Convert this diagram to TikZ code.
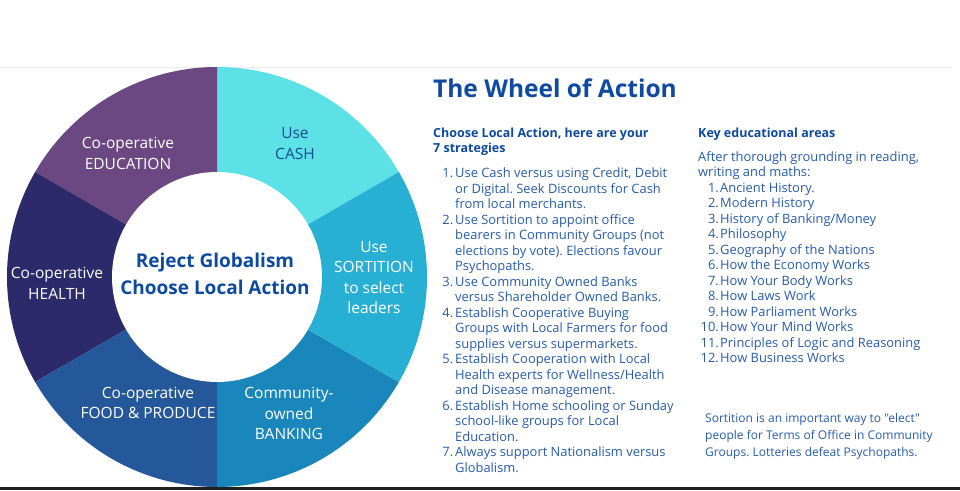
\documentclass[tikz,border=0pt]{standalone}
\usepackage{fontspec}
\setmainfont{Open Sans}[Ligatures=TeXOff]
\frenchspacing
\definecolor{cEdu}{HTML}{6B4882}
\definecolor{cCash}{HTML}{5CE1E6}
\definecolor{cSort}{HTML}{28B0D4}
\definecolor{cBank}{HTML}{1A87BC}
\definecolor{cFood}{HTML}{24589B}
\definecolor{cHealth}{HTML}{2C2A6A}
\definecolor{cHead}{HTML}{0E4AA0}
\definecolor{cBody}{HTML}{285CAA}
\definecolor{cCashTxt}{HTML}{194B91}
\begin{document}
\begin{tikzpicture}[x=1pt,y=1pt,
  wheellabel/.style={text=white,align=center,inner sep=0pt,font=\fontsize{15.5}{20.5}\selectfont},
  body/.style={text=cBody,anchor=base west,inner sep=0pt,font=\fontsize{12.9}{15.5}\selectfont},
  numlabel/.style={body,anchor=base east},
  subhead/.style={text=cHead,anchor=base west,inner sep=0pt,font=\fontsize{12.5}{15}\selectfont\bfseries},
  note/.style={text=cBody,anchor=base west,inner sep=0pt,font=\fontsize{12}{17}\selectfont}]
\useasboundingbox (0,0) rectangle (960,490);
\fill[white] (0,0) rectangle (960,490);
% frame lines
\draw[black!8,line width=0.8pt] (0,423) -- (952,423);
\fill[black!88] (0,0) rectangle (960,3);
% wheel
\coordinate (c) at (217,213);
\fill[cCash]   (c) -- ++(30:210pt)  arc[start angle=30, end angle=90, radius=210pt] -- cycle;
\fill[cEdu]    (c) -- ++(90:210pt)  arc[start angle=90, end angle=150,radius=210pt] -- cycle;
\fill[cHealth] (c) -- ++(150:210pt) arc[start angle=150,end angle=210,radius=210pt] -- cycle;
\fill[cFood]   (c) -- ++(210:210pt) arc[start angle=210,end angle=270,radius=210pt] -- cycle;
\fill[cBank]   (c) -- ++(270:210pt) arc[start angle=270,end angle=330,radius=210pt] -- cycle;
\fill[cSort]   (c) -- ++(-30:210pt) arc[start angle=-30,end angle=30, radius=210pt] -- cycle;
\fill[white] (c) circle[radius=105pt];
% wheel labels
\node[wheellabel] (edu) at (128,336.5) {Co-operative\\EDUCATION};
\node[wheellabel,text=cCashTxt] (cash) at (295,346.5) {Use\\CASH};
\node[wheellabel] (sort) at (374,212.5) {Use\\SORTITION\\to select\\leaders};
\node[wheellabel] (bank) at (289,76.5) {Community-\\owned\\BANKING};
\node[wheellabel] (food) at (148,87) {Co-operative\\FOOD \& PRODUCE};
\node[wheellabel] (health) at (57,206.5) {Co-operative\\HEALTH};
\node[text=cHead,align=center,inner sep=0pt,font=\fontsize{19}{27}\selectfont\bfseries] (core) at (215,216.5) {Reject Globalism\\Choose Local Action};
% title
\node[text=cHead,anchor=base west,inner sep=0pt,font=\fontsize{24.5}{28}\selectfont\bfseries] (title) at (433,392) {The Wheel of Action};
% left column
\node[subhead] (h1a) at (433,352.5) {Choose Local Action, here are your};
\node[subhead] (h1b) at (433,337.5) {7 strategies};
\foreach \t [count=\i from 0] in {%
  {Use Cash versus using Credit, Debit},
  {or Digital. Seek Discounts for Cash},
  {from local merchants.},
  {Use Sortition to appoint office},
  {bearers in Community Groups (not},
  {elections by vote). Elections favour},
  {Psychopaths.},
  {Use Community Owned Banks},
  {versus Shareholder Owned Banks.},
  {Establish Cooperative Buying},
  {Groups with Local Farmers for food},
  {supplies versus supermarkets.},
  {Establish Cooperation with Local},
  {Health experts for Wellness/Health},
  {and Disease management.},
  {Establish Home schooling or Sunday},
  {school-like groups for Local},
  {Education.},
  {Always support Nationalism versus},
  {Globalism.}}
  {\node[body] (sl\i) at (455,312.4-15.5*\i) {\t};}
\foreach \n/\k in {1/0,2/3,3/7,4/9,5/12,6/15,7/18}
  {\node[numlabel] (sn\n) at (453.5,312.4-15.5*\k) {\n.};}
% right column
\node[subhead] (h2) at (698,352.5) {Key educational areas};
\node[body] (ra) at (698,328.7) {After thorough grounding in reading,};
\node[body] (rb) at (698,313) {writing and maths:};
\foreach \t [count=\i] in {Ancient History., Modern History, History of Banking/Money,
  Philosophy, Geography of the Nations, How the Economy Works, How Your Body Works,
  How Laws Work, How Parliament Works, How Your Mind Works,
  Principles of Logic and Reasoning, How Business Works}
  {\node[body] (rl\i) at (720,297.7-15.5*\i+15.5) {\t};
   \node[numlabel] (rn\i) at (719,297.7-15.5*\i+15.5) {\i.};}
% note
\node[note] (n1) at (705,67.5) {Sortition is an important way to "elect"};
\node[note] (n2) at (705,50.5) {people for Terms of Office in Community};
\node[note] (n3) at (705,33.5) {Groups. Lotteries defeat Psychopaths.};
\end{tikzpicture}
\end{document}
